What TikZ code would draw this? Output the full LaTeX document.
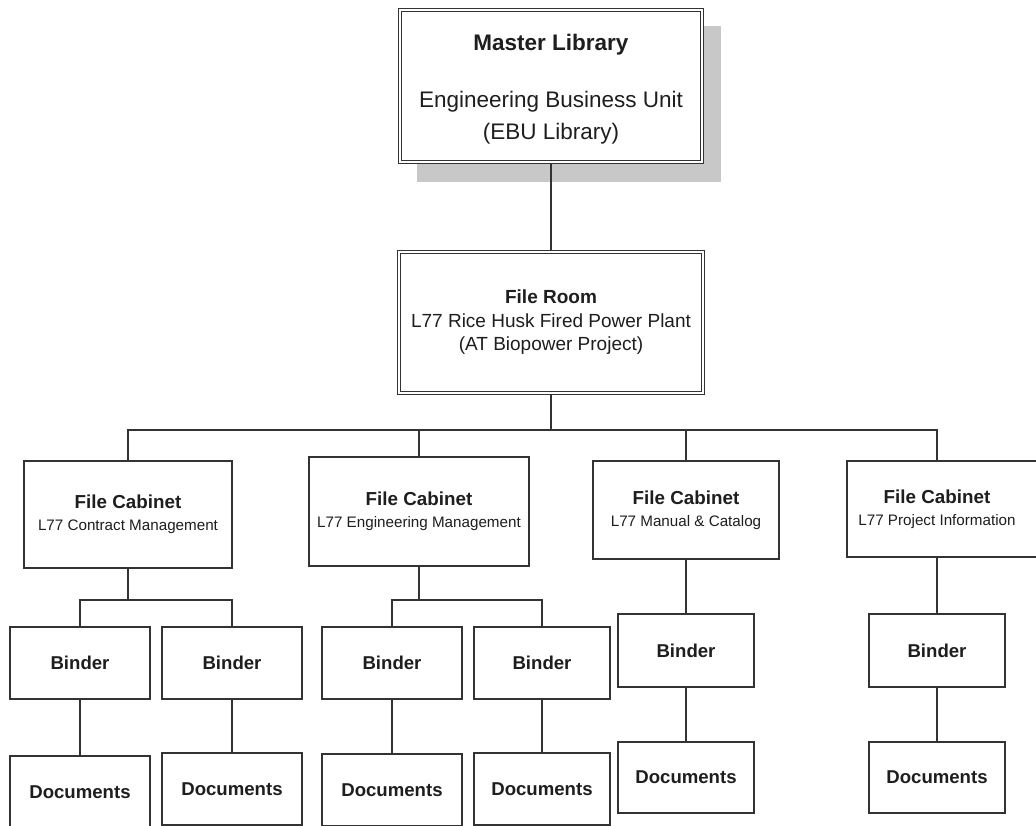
\documentclass[tikz,border=0pt]{standalone}
\usepackage{fontspec}
\setmainfont{Liberation Sans}
\definecolor{linecol}{HTML}{333333}
\definecolor{txtcol}{HTML}{1E1E1E}
\definecolor{shadowcol}{HTML}{C8C8C8}
\begin{document}
\begin{tikzpicture}[x=1pt,y=-1pt,
  box/.style={draw=linecol, fill=white, line width=1.8pt, rectangle, inner sep=0pt,
    align=center, text=txtcol},
  dbox/.style={box, line width=1.4pt, double=white, double distance=1.8pt},
  label/.style={align=center, inner sep=0pt, text=txtcol},
  leaf/.style={box, font=\fontsize{18.6}{22}\selectfont\bfseries},
  cab/.style={box, font=\fontsize{15.2}{22}\selectfont},
  wire/.style={draw=linecol, line width=1.8pt},
]
\useasboundingbox (0,0) rectangle (1036,825);
\clip (0,0) rectangle (1036,825);
\fill[white] (0,0) rectangle (1036,825);

% drop shadow behind the top box
\fill[shadowcol] (417,26) rectangle (721,182);

% top level
\node[dbox, minimum width=302pt, minimum height=152pt] (master) at (551,86) {};
\node[label, font=\fontsize{22.5}{32}\selectfont] (mastert) at (551,89.5)
  {{\bfseries Master Library}\\[25pt]Engineering Business Unit\\(EBU Library)};

\node[dbox, minimum width=304pt, minimum height=141pt,
      font=\fontsize{19}{23.5}\selectfont] (room) at (551,322.5)
  {{\bfseries File Room}\\L77 Rice Husk Fired Power Plant\\(AT Biopower Project)};

% file cabinets
\node[cab, minimum width=208pt, minimum height=107pt] (fc1) at (128,514.5)
  {{\fontsize{18.8}{22}\selectfont\bfseries File Cabinet}\\L77 Contract Management};
\node[cab, minimum width=220pt, minimum height=109pt] (fc2) at (419,511.5)
  {{\fontsize{18.8}{22}\selectfont\bfseries File Cabinet}\\L77 Engineering Management};
\node[cab, minimum width=186pt, minimum height=98pt] (fc3) at (686,510)
  {{\fontsize{18.8}{22}\selectfont\bfseries File Cabinet}\\L77 Manual \& Catalog};
\node[cab, minimum width=198pt, minimum height=96pt] (fc4) at (946,509) {};
\node[label, font=\fontsize{15.2}{22}\selectfont] (fc4t) at (937,509)
  {{\fontsize{18.8}{22}\selectfont\bfseries File Cabinet}\\L77 Project Information};

% binders
\node[leaf, minimum width=140pt, minimum height=72pt] (b1) at (80,663) {Binder};
\node[leaf, minimum width=140pt, minimum height=72pt] (b2) at (232,663) {Binder};
\node[leaf, minimum width=140pt, minimum height=72pt] (b3) at (392,663) {Binder};
\node[leaf, minimum width=136pt, minimum height=72pt] (b4) at (542,663) {Binder};
\node[leaf, minimum width=136pt, minimum height=73pt] (b5) at (686,650.5) {Binder};
\node[leaf, minimum width=136pt, minimum height=73pt] (b6) at (937,650.5) {Binder};

% documents
\node[leaf, minimum width=140pt, minimum height=72pt] (d1) at (80,792) {Documents};
\node[leaf, minimum width=140pt, minimum height=72pt] (d2) at (232,789) {Documents};
\node[leaf, minimum width=140pt, minimum height=72pt] (d3) at (392,790) {Documents};
\node[leaf, minimum width=136pt, minimum height=72pt] (d4) at (542,789) {Documents};
\node[leaf, minimum width=136pt, minimum height=71pt] (d5) at (686,777.5) {Documents};
\node[leaf, minimum width=136pt, minimum height=71pt] (d6) at (937,777.5) {Documents};

% bus levels
\coordinate (bus) at (0,430);
\coordinate (sub) at (0,600);

% connectors
\draw[wire] (master.south) -- (room.north);
\draw[wire] (room.south) -- (room.south |- bus);
\draw[wire] (fc1.north) -- (fc1.north |- bus) -- (fc4t |- bus) -- (fc4t |- fc4.north);
\draw[wire] (fc2.north) -- (fc2.north |- bus);
\draw[wire] (fc3.north) -- (fc3.north |- bus);

\draw[wire] (fc1.south) -- (fc1.south |- sub);
\draw[wire] (b1.north) -- (b1.north |- sub) -- (b2.north |- sub) -- (b2.north);
\draw[wire] (fc2.south) -- (fc2.south |- sub);
\draw[wire] (b3.north) -- (b3.north |- sub) -- (b4.north |- sub) -- (b4.north);
\draw[wire] (fc3.south) -- (b5.north);
\draw[wire] (fc4t |- fc4.south) -- (b6.north);

\foreach \i in {1,...,6} {
  \draw[wire] (b\i.south) -- (d\i.north);
}
\end{tikzpicture}
\end{document}
